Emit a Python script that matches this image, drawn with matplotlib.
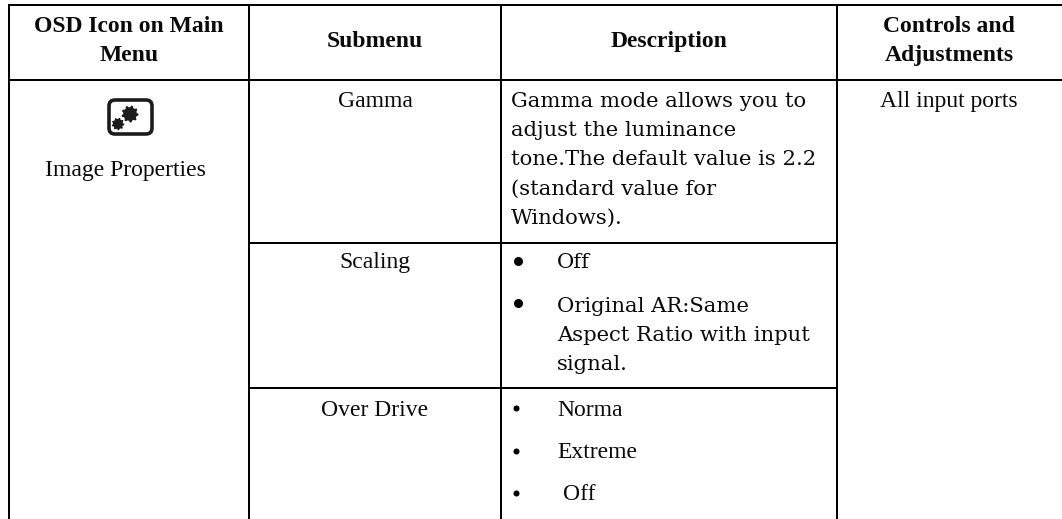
import numpy as np
import matplotlib
matplotlib.use("Agg")
import matplotlib.pyplot as plt
from matplotlib.patches import FancyBboxPatch, Polygon

W, H = 1062, 519

headers = [["OSD Icon on Main", "Menu"], ["Submenu"], ["Description"], ["Controls and", "Adjustments"]]
first_col = ["Image Properties"]
submenus = ["Gamma", "Scaling", "Over Drive"]
ports = ["All input ports"]
gamma_lines = ["Gamma mode allows you to", "adjust the luminance",
               "tone.The default value is 2.2", "(standard value for", "Windows)."]
scaling_lines = ["Off", "Original AR:Same", "Aspect Ratio with input", "signal."]
drive_lines = ["Norma", "Extreme", "Off"]

fig = plt.figure(figsize=(W / 100, H / 100), dpi=100)
ax = fig.add_axes([0, 0, 1, 1])
ax.set_xlim(0, W)
ax.set_ylim(H, 0)
ax.axis("off")

SERIF = "Liberation Serif"
BODY = "DejaVu Serif"
LW = 1.45
for x in [9, 249, 501, 837]:
    ax.plot([x, x], [4, H], color="black", lw=LW, solid_capstyle="butt")
for y in [5, 79.7]:
    ax.plot([8, W], [y, y], color="black", lw=LW, solid_capstyle="butt")
for y in [242.7, 388.4]:
    ax.plot([249, 837], [y, y], color="black", lw=LW, solid_capstyle="butt")

def t(x, y, s, ha="center", fam=SERIF, size=17.0, weight="normal"):
    ax.text(x, y, s, ha=ha, va="baseline", family=fam, fontsize=size, weight=weight, color="#0a0a0a")

t(129, 32, headers[0][0], weight="bold")
t(129, 61, headers[0][1], weight="bold")
t(375, 47, headers[1][0], weight="bold")
t(669, 47, headers[2][0], weight="bold")
t(949, 32, headers[3][0], weight="bold")
t(949, 61, headers[3][1], weight="bold")

t(125, 176, first_col[0])
for y, s in zip([107, 268, 416], submenus):
    t(375, y, s)
t(949, 107, ports[0])

BS = 15.2
for y, s in zip([107, 136, 165, 194.5, 223.5], gamma_lines):
    t(511, y, s, ha="left", fam=BODY, size=BS)
for y, s in zip([268, 312, 341, 370], scaling_lines):
    t(557, y, s, ha="left", fam=BODY, size=BS)
for x, y, s in zip([557, 557, 563], [416, 458, 500], drive_lines):
    t(x, y, s, ha="left")

ax.scatter([518, 518], [261, 303], s=42, color="black", linewidths=0)
ax.scatter([515.7, 515.7, 515.7], [408, 451, 493], s=19, color="black", linewidths=0)

ax.add_patch(FancyBboxPatch((109, 100), 43, 34, boxstyle="round,pad=0,rounding_size=6",
                            fill=False, ec="#1c1c1c", lw=2.6))

def gear(cx, cy, r, teeth=9):
    ang = np.linspace(0, 2 * np.pi, teeth * 4, endpoint=False)
    rad = np.tile([r, r, r * 0.8, r * 0.8], teeth)
    return Polygon(np.c_[cx + rad * np.cos(ang), cy + rad * np.sin(ang)], closed=True, color="#1c1c1c", lw=0)

ax.add_patch(gear(130, 114, 8.5))
ax.add_patch(gear(118, 124, 6.3))

fig.savefig("out.png", dpi=100, facecolor="white")
